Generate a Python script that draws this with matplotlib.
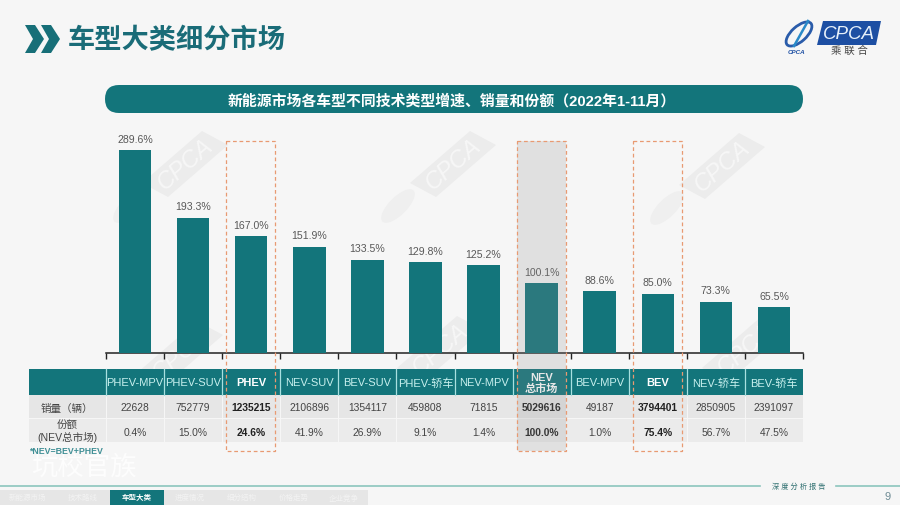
import matplotlib
matplotlib.use("Agg")
import matplotlib.pyplot as plt
from matplotlib.patches import Rectangle, Polygon, FancyBboxPatch, Ellipse

plt.rcParams['font.family'] = ['Liberation Sans', 'Noto Sans CJK SC', 'DejaVu Sans']

categories = ['PHEV-MPV', 'PHEV-SUV', 'PHEV', 'NEV-SUV', 'BEV-SUV', 'PHEV-轿车',
              'NEV-MPV', 'NEV\n总市场', 'BEV-MPV', 'BEV', 'NEV-轿车', 'BEV-轿车']
growth = [289.6, 193.3, 167.0, 151.9, 133.5, 129.8, 125.2, 100.1, 88.6, 85.0, 73.3, 65.5]
sales = [22628, 752779, 1235215, 2106896, 1354117, 459808, 71815, 5029616, 49187, 3794401, 2850905, 2391097]
share = [0.4, 15.0, 24.6, 41.9, 26.9, 9.1, 1.4, 100.0, 1.0, 75.4, 56.7, 47.5]
row_names = ['销量（辆）', '份额\n(NEV总市场)']
highlight = ['PHEV', 'NEV\n总市场', 'BEV']
tabs = ['新能源市场', '技术路线', '车型大类', '进度情况', '细分结构', '价格走势', '企业竞争']

TEAL = '#13757b'
W, H = 900, 506

fig = plt.figure(figsize=(9, 5.06), dpi=100, facecolor='#f6f6f6')


def pixel_axes(z):
    # full page axes in pixels, y going down
    a = fig.add_axes([0, 0, 1, 1], zorder=z)
    a.set_xlim(0, W)
    a.set_ylim(H, 0)
    a.axis('off')
    return a


page = pixel_axes(0)
overlay = pixel_axes(4)


def watermark(cx, cy):
    # grey tilted CPCA stamp behind the chart
    dx, dy = 30, -26
    nx, ny = 13, 15
    page.add_patch(Polygon([(cx - dx - nx, cy - dy - ny + 8), (cx + dx - nx, cy + dy - ny + 8),
                            (cx + dx + nx, cy + dy + ny - 8), (cx - dx + nx, cy - dy + ny - 8)],
                           color='#ececec', lw=0, zorder=0))
    page.text(cx, cy, 'CPCA', fontsize=17, style='italic', color='#f7f7f7', rotation=41,
              ha='center', va='center', zorder=0.5)
    page.add_patch(Ellipse((cx - 55, cy + 42), 44, 18, angle=-45, facecolor='#efefef', lw=0, zorder=0))


for x, y in [(185, 165), (453, 165), (722, 167), (180, 355), (440, 350), (745, 350)]:
    watermark(x, y)

# title
for x0 in (25, 41):
    page.add_patch(Polygon([(x0, 26), (x0 + 10, 26), (x0 + 19, 40), (x0 + 10, 54), (x0, 54), (x0 + 8, 40)],
                           color='#176f78', lw=0))
page.text(68, 41, '车型大类细分市场', fontsize=19.6, fontweight='bold', color='#1a6c78', va='center')

# logo
page.add_patch(Polygon([(817, 46), (823, 22), (881, 22), (876, 46)], color='#1d4fa3', lw=0))
page.text(849, 34, 'CPCA', fontsize=13.5, style='italic', color='#e6f0fa', ha='center', va='center')
page.text(849, 51, '乘 联 合', fontsize=7.5, color='#444444', ha='center', va='center')
page.add_patch(Ellipse((799, 35), 32, 15, angle=-42, fill=False, edgecolor='#2a5caa', lw=2))
page.plot([794, 808], [47, 22], color='#2a8ac8', lw=1.8)
page.text(797, 52, 'CPCA', fontsize=4.5, style='italic', fontweight='bold', color='#1d4fa3', ha='center', va='center')

# subtitle pill
page.add_patch(FancyBboxPatch((105, 86), 698, 28, boxstyle='round,pad=0,rounding_size=14',
                              color=TEAL, lw=0))
page.text(451.5, 101.5, '新能源市场各车型不同技术类型增速、销量和份额（2022年1-11月）', fontsize=10.7,
          fontweight='bold', color='white', ha='center', va='center')

# bars, same x units as the table below
left, right, base, top = 106, 803, 354, 130
ax = fig.add_axes([left / W, 1 - base / H, (right - left) / W, (base - top) / H], zorder=3)
ax.patch.set_alpha(0)
xs = list(range(len(categories)))
ax.bar(xs, growth, width=0.56, color=TEAL, zorder=3)
for x, v in zip(xs, growth):
    ax.text(x, v + 9, f'{v:.1f}%', ha='center', va='bottom', fontsize=7.6, color='#595959')
ax.set_xlim(-0.5, 11.5)
ax.set_ylim(0, (base - top) / 0.70)
ax.set_yticks([])
ax.set_xticks([i - 0.5 for i in range(13)])
ax.set_xticklabels([])
ax.tick_params(axis='x', direction='out', length=4, width=1, color='#222222')
for s in ['top', 'left', 'right']:
    ax.spines[s].set_visible(False)
ax.spines['bottom'].set_linewidth(1.1)
ax.spines['bottom'].set_color('#222222')

# table
col_w = (right - left) / len(categories)
rows_y = [370, 396, 420, 443]
page.add_patch(Rectangle((29, rows_y[0]), left - 29, rows_y[1] - rows_y[0], color=TEAL, lw=0, zorder=2))
page.add_patch(Rectangle((29, rows_y[1]), left - 29, rows_y[2] - rows_y[1] - 1, color='#e6e6e6', lw=0, zorder=2))
page.add_patch(Rectangle((29, rows_y[2]), left - 29, rows_y[3] - rows_y[2], color='#ebebeb', lw=0, zorder=2))
page.text(67, 408.5, row_names[0], fontsize=7.6, color='#444444', ha='center', va='center', zorder=6)
page.text(67, 432, row_names[1], fontsize=7.6, color='#444444', ha='center', va='center', linespacing=1.1, zorder=6)

for i, name in enumerate(categories):
    x0 = left + i * col_w
    cx = x0 + col_w / 2
    bold = name in highlight
    weight = 'bold' if bold else 'normal'
    page.add_patch(Rectangle((x0 + 0.7, rows_y[0]), col_w - 0.7, rows_y[1] - rows_y[0], color=TEAL, lw=0, zorder=2))
    page.add_patch(Rectangle((x0 + 0.7, rows_y[1]), col_w - 0.7, rows_y[2] - rows_y[1] - 1, color='#e6e6e6', lw=0, zorder=2))
    page.add_patch(Rectangle((x0 + 0.7, rows_y[2]), col_w - 0.7, rows_y[3] - rows_y[2], color='#ebebeb', lw=0, zorder=2))
    page.plot([x0, x0], [rows_y[0], rows_y[1]], color='#a8e0e0', lw=0.9, zorder=3)
    page.text(cx, 383.5, name, fontsize=8.0, color='white' if bold else '#c8f0ee', fontweight=weight,
              ha='center', va='center', linespacing=1.05, zorder=6)
    page.text(cx, 408.5, str(sales[i]), fontsize=7.4, color='#222222' if bold else '#444444', fontweight=weight,
              ha='center', va='center', zorder=6)
    page.text(cx, 433, f'{share[i]:.1f}%', fontsize=7.4, color='#222222' if bold else '#444444', fontweight=weight,
              ha='center', va='center', zorder=6)

    if bold:
        # dashed box around the highlighted column, laid over the bar and the table
        hx = cx - 24.8
        if name.startswith('NEV\n'):
            overlay.add_patch(Rectangle((hx, 142), 49, 310, facecolor='#8c8c8c', alpha=0.2, lw=0))
        overlay.add_patch(Rectangle((hx, 142), 49, 310, fill=False, edgecolor='#e89a72', lw=0.9,
                                    linestyle=(0, (3, 2.2))))

page.text(29, 451.5, '*NEV=BEV+PHEV', fontsize=6.3, color='#3f8f95', fontweight='bold', va='center', zorder=3)
page.text(31, 468, '坑校官族', fontsize=19, color='#fdfdfd', va='center', zorder=1)

# footer
page.plot([0, 760], [487, 487], color='#8cc5bd', lw=1.2)
page.plot([836, 900], [487, 487], color='#8cc5bd', lw=1.2)
page.text(799, 487, '深 度 分 析 报 告', fontsize=5.2, color='#2f6f70', ha='center', va='center')
page.text(888, 497, '9', fontsize=8, color='#6f8c95', ha='center', va='center')

tab_edges = [0, 55, 110, 164, 216, 268, 320, 368]
for t, x0, x1 in zip(tabs, tab_edges[:-1], tab_edges[1:]):
    on = t == '车型大类'
    page.add_patch(Rectangle((x0, 491), x1 - x0, 15, color=TEAL if on else '#e6e6e6', lw=0))
    page.text((x0 + x1) / 2, 498.5, t, fontsize=5.4, color='white' if on else '#f3f3f3',
              fontweight='bold' if on else 'normal', ha='center', va='center')

fig.savefig('out.png', dpi=100, facecolor=fig.get_facecolor())
